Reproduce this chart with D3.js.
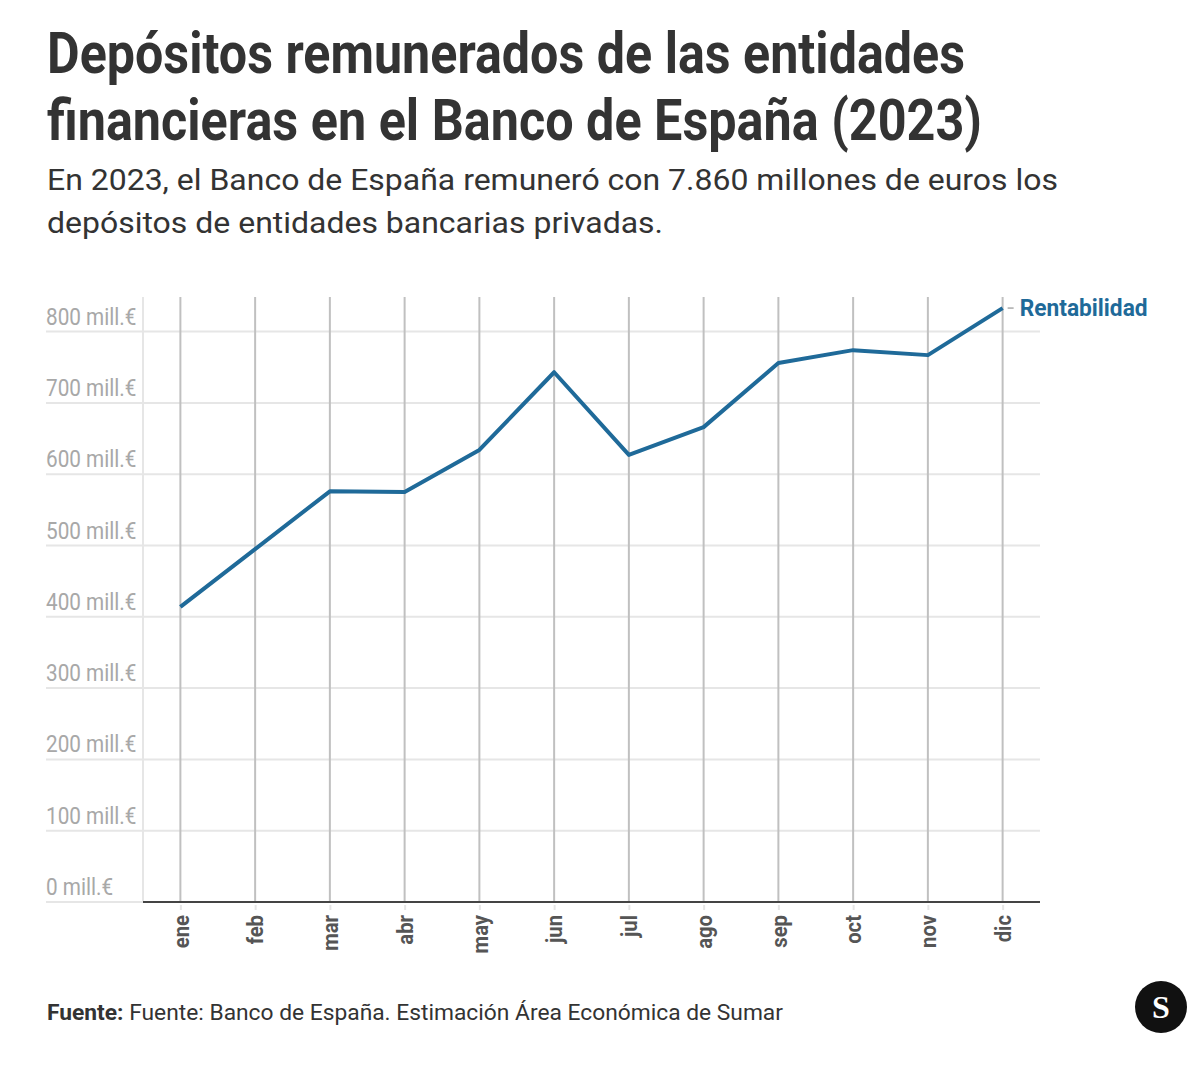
<!DOCTYPE html>
<html>
<head>
<meta charset="utf-8">
<script src="https://cdn.jsdelivr.net/npm/d3@7"></script>
<style>
  html, body { margin: 0; padding: 0; background: #fff; }
  svg { display: block; font-family: Roboto, "Noto Sans", sans-serif; }
  .logo-s { font-family: "Liberation Serif", "DejaVu Serif", serif; }
</style>
</head>
<body>
<svg id="chart" width="1200" height="1074"></svg>
<script>
const months = ["ene","feb","mar","abr","may","jun","jul","ago","sep","oct","nov","dic"];
const rentabilidad = [414, 495, 576, 575, 634, 743, 627, 666, 756, 774, 767, 833];
const yTicks = [0, 100, 200, 300, 400, 500, 600, 700, 800];
const seriesName = "Rentabilidad";
const titleLines = ["Depósitos remunerados de las entidades", "financieras en el Banco de España (2023)"];
const subtitleLines = ["En 2023, el Banco de España remuneró con 7.860 millones de euros los", "depósitos de entidades bancarias privadas."];
const sourceLabel = "Fuente:";
const sourceText = " Fuente: Banco de España. Estimación Área Económica de Sumar";

const svg = d3.select("#chart");
const plot = { left: 143, right: 1040, top: 297, bottom: 902 };
const lineColor = "#1f6a99";

function condense(sel, factor) {
  sel.each(function() {
    const w = this.getComputedTextLength();
    d3.select(this).attr("textLength", w * factor).attr("lengthAdjust", "spacingAndGlyphs");
  });
}
function fitTo(sel, width) {
  sel.attr("textLength", width).attr("lengthAdjust", "spacingAndGlyphs");
}

// Title
const titleWidths = [918, 935];
titleLines.forEach((t, i) => {
  svg.append("text").attr("x", 47).attr("y", 73 + i * 67)
    .attr("font-size", 57).attr("font-weight", 700).attr("fill", "#333")
    .text(t).call(fitTo, titleWidths[i]);
});
const subWidths = [1011, 616];
subtitleLines.forEach((t, i) => {
  svg.append("text").attr("x", 47).attr("y", 190 + i * 43)
    .attr("font-size", 29).attr("font-weight", 400).attr("fill", "#333")
    .text(t).call(fitTo, subWidths[i]);
});

// Scales
const x = d3.scalePoint().domain(months).range([plot.left, plot.right]).padding(0.5);
const y = d3.scaleLinear().domain([0, 800]).range([plot.bottom, 902 - 800 * 0.713]);

// Horizontal gridlines
const gY = svg.append("g");
gY.selectAll("line").data(yTicks).join("line")
  .attr("x1", 46).attr("x2", plot.right)
  .attr("y1", d => y(d)).attr("y2", d => y(d))
  .attr("stroke", "#e6e6e6").attr("stroke-width", 2);

// Left light vertical line
svg.append("line").attr("x1", plot.left).attr("x2", plot.left)
  .attr("y1", plot.top).attr("y2", plot.bottom)
  .attr("stroke", "#e6e6e6").attr("stroke-width", 2);

// Vertical gridlines at months
svg.append("g").selectAll("line").data(months).join("line")
  .attr("x1", d => x(d)).attr("x2", d => x(d))
  .attr("y1", plot.top).attr("y2", plot.bottom)
  .attr("stroke", "#c0c0c0").attr("stroke-width", 2);

// Y tick labels
gY.selectAll("text").data(yTicks).join("text")
  .attr("x", 46).attr("y", d => y(d) - 7)
  .attr("font-size", 23).attr("fill", "#a8a8a8")
  .text(d => d + " mill.€").call(condense, 0.9);

// X axis
const xAxis = d3.axisBottom(x).tickSize(6).tickPadding(8);
const gX = svg.append("g").attr("transform", `translate(0,${plot.bottom})`).call(xAxis);
gX.select(".domain").remove();
gX.append("line").attr("x1", plot.left).attr("x2", plot.right)
  .attr("y1", 0).attr("y2", 0).attr("stroke", "#444").attr("stroke-width", 2);
gX.selectAll(".tick line").attr("stroke", "#e6e6e6").attr("stroke-width", 2).attr("y1", 3).attr("y2", 8);
gX.selectAll(".tick text")
  .attr("transform", "rotate(-90)")
  .attr("x", -13).attr("y", 0).attr("dy", "0.35em")
  .attr("text-anchor", "end")
  .attr("font-family", "Roboto, sans-serif")
  .attr("font-size", 22).attr("font-weight", 700).attr("fill", "#555")
  .call(condense, 0.92);

// Line
const line = d3.line().x((d, i) => x(months[i])).y(d => y(d));
svg.append("path").datum(rentabilidad)
  .attr("d", line).attr("fill", "none")
  .attr("stroke", lineColor).attr("stroke-width", 4)
  .attr("stroke-linejoin", "round");

// Series label
const lastX = x(months[months.length - 1]);
const lastY = y(rentabilidad[rentabilidad.length - 1]);
svg.append("line").attr("x1", lastX + 5).attr("x2", lastX + 11)
  .attr("y1", lastY).attr("y2", lastY).attr("stroke", "#aaa").attr("stroke-width", 1.5);
svg.append("text").attr("x", lastX + 17).attr("y", lastY + 8)
  .attr("font-size", 23).attr("font-weight", 700).attr("fill", lineColor)
  .text(seriesName).call(fitTo, 128);

// Footer
const foot = svg.append("text").attr("x", 47).attr("y", 1020)
  .attr("font-size", 22).attr("fill", "#333");
foot.append("tspan").attr("font-weight", 700).text(sourceLabel);
foot.append("tspan").attr("font-weight", 400).text(sourceText);
fitTo(foot, 736);

// Logo
svg.append("circle").attr("cx", 1161).attr("cy", 1007).attr("r", 26).attr("fill", "#111");
svg.append("text").attr("class", "logo-s").attr("x", 1161).attr("y", 1018).attr("text-anchor", "middle")
  .attr("font-weight", 700).attr("font-size", 32).attr("fill", "#fff").text("S");
</script>
</body>
</html>
